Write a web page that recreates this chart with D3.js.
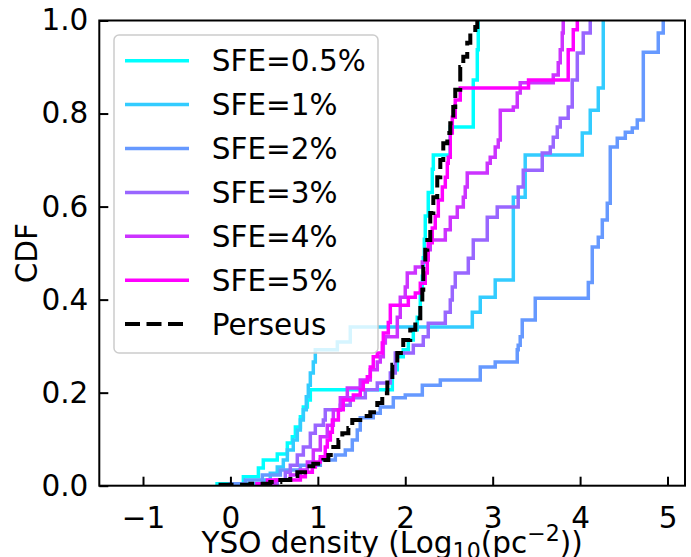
<!DOCTYPE html>
<html><head><meta charset="utf-8">
<script src="https://cdn.jsdelivr.net/npm/d3@7"></script>
<style>
body{margin:0;background:#fff}
text{font-family:"DejaVu Sans",sans-serif;fill:#000}
</style>
</head><body>
<svg id="chart" width="691" height="557"></svg>
<script>
// ---------------- data ----------------
const seriesLabels = ["SFE=0.5%", "SFE=1%", "SFE=2%", "SFE=3%", "SFE=4%", "SFE=5%", "Perseus"];
const xTicks = [-1, 0, 1, 2, 3, 4, 5];
const yTicks = [0, 0.2, 0.4, 0.6, 0.8, 1.0];
const xLimits = [-1.5, 5.2];
const yLimits = [0, 1];

const sfe05X = [-0.173, 0.148, 0.320, 0.376, 0.536, 0.651, 0.708, 0.743, 0.800, 0.834, 0.880, 0.914, 1.852, 1.909, 1.977, 2.035, 2.092, 2.137, 2.172, 2.195, 2.206, 2.218, 2.229, 2.263, 2.309, 2.321, 2.515, 2.778, 2.824, 2.835];
const sfe05Y = [0.004, 0.019, 0.038, 0.055, 0.068, 0.092, 0.105, 0.126, 0.148, 0.169, 0.184, 0.206, 0.249, 0.277, 0.292, 0.313, 0.335, 0.362, 0.410, 0.45, 0.49, 0.53, 0.58, 0.63, 0.68, 0.711, 0.771, 0.872, 0.937, 1.0];

const sfe1X = [0.170, 0.376, 0.456, 0.536, 0.605, 0.651, 0.719, 0.765, 0.800, 0.834, 0.868, 0.891, 0.914, 0.948, 0.971, 1.223, 1.371, 2.767, 2.858, 3.029, 3.236, 3.372, 4.025, 4.116, 4.208, 4.265];
const sfe1Y = [0.004, 0.012, 0.027, 0.040, 0.055, 0.077, 0.098, 0.120, 0.141, 0.163, 0.191, 0.216, 0.242, 0.266, 0.292, 0.309, 0.341, 0.373, 0.405, 0.442, 0.620, 0.711, 0.758, 0.807, 0.855, 1.0];

const sfe2X = [-0.024, 0.170, 0.365, 0.571, 0.800, 1.028, 1.200, 1.314, 1.394, 1.451, 1.485, 1.634, 1.714, 1.863, 2.000, 2.195, 2.401, 2.858, 3.029, 3.281, 3.292, 3.315, 3.338, 3.487, 4.094, 4.139, 4.208, 4.254, 4.311, 4.345, 4.425, 4.517, 4.597, 4.654, 4.723, 4.894, 4.951];
const sfe2Y = [0.004, 0.012, 0.023, 0.034, 0.044, 0.055, 0.066, 0.077, 0.098, 0.120, 0.146, 0.156, 0.169, 0.189, 0.195, 0.216, 0.227, 0.255, 0.266, 0.292, 0.302, 0.320, 0.356, 0.403, 0.437, 0.513, 0.534, 0.571, 0.607, 0.728, 0.747, 0.760, 0.769, 0.786, 0.932, 0.973, 1.0];

const sfe3X = [0.399, 0.536, 0.628, 0.685, 0.765, 0.834, 0.914, 0.971, 1.063, 1.085, 1.257, 1.371, 1.543, 1.680, 1.829, 1.886, 2.092, 2.206, 2.263, 2.458, 2.515, 2.538, 2.572, 2.721, 2.778, 2.938, 3.052, 3.292, 3.350, 3.567, 3.659, 3.693, 3.739, 3.773, 3.864, 3.910, 3.968, 4.036, 4.116];
const sfe3Y = [0.004, 0.012, 0.029, 0.044, 0.066, 0.083, 0.113, 0.130, 0.141, 0.163, 0.173, 0.189, 0.206, 0.221, 0.242, 0.285, 0.302, 0.320, 0.349, 0.373, 0.399, 0.427, 0.457, 0.489, 0.528, 0.577, 0.599, 0.642, 0.678, 0.715, 0.728, 0.749, 0.771, 0.790, 0.814, 0.872, 0.930, 0.973, 1.0];

const sfe4X = [0.285, 0.514, 0.685, 0.800, 0.880, 0.948, 1.028, 1.108, 1.177, 1.257, 1.337, 1.485, 1.600, 1.680, 1.714, 1.749, 1.772, 1.909, 1.943, 2.000, 2.023, 2.115, 2.195, 2.229, 2.286, 2.458, 2.515, 2.595, 2.664, 2.686, 2.709, 2.938, 2.972, 3.029, 3.064, 3.087, 3.236, 3.281, 3.315, 3.693, 3.750, 3.773, 3.796, 3.807];
const sfe4Y = [0.004, 0.012, 0.023, 0.034, 0.051, 0.077, 0.105, 0.130, 0.163, 0.189, 0.210, 0.227, 0.249, 0.266, 0.277, 0.307, 0.320, 0.362, 0.405, 0.427, 0.457, 0.470, 0.481, 0.507, 0.528, 0.550, 0.577, 0.599, 0.620, 0.642, 0.672, 0.693, 0.706, 0.728, 0.743, 0.807, 0.814, 0.844, 0.866, 0.883, 0.909, 0.937, 0.973, 1.0];

const sfe5X = [0.285, 0.422, 0.800, 0.857, 0.937, 0.971, 1.028, 1.085, 1.108, 1.143, 1.166, 1.235, 1.291, 1.406, 1.485, 1.520, 1.566, 1.600, 1.634, 1.680, 1.737, 1.749, 1.806, 1.829, 2.035, 2.115, 2.172, 2.229, 2.252, 2.263, 2.309, 2.343, 2.378, 2.424, 2.458, 2.481, 2.492, 2.515, 2.538, 2.572, 2.629, 3.410, 3.864, 3.922, 3.968];
const sfe5Y = [0.004, 0.012, 0.019, 0.029, 0.040, 0.051, 0.062, 0.083, 0.098, 0.115, 0.141, 0.163, 0.184, 0.195, 0.206, 0.223, 0.234, 0.255, 0.277, 0.285, 0.307, 0.328, 0.351, 0.388, 0.405, 0.414, 0.435, 0.457, 0.485, 0.522, 0.554, 0.580, 0.614, 0.642, 0.663, 0.693, 0.706, 0.758, 0.792, 0.829, 0.855, 0.872, 0.937, 0.980, 1.0];

const perseusX = [-0.136, 0.228, 0.456, 0.571, 0.685, 0.765, 0.880, 0.948, 1.063, 1.120, 1.177, 1.235, 1.280, 1.349, 1.394, 1.485, 1.600, 1.680, 1.737, 1.795, 1.852, 1.909, 1.977, 2.057, 2.115, 2.172, 2.195, 2.206, 2.229, 2.252, 2.286, 2.321, 2.366, 2.401, 2.435, 2.481, 2.515, 2.549, 2.572, 2.629, 2.664, 2.709, 2.744, 2.801, 2.824];
const perseusY = [0.002, 0.004, 0.008, 0.012, 0.021, 0.029, 0.042, 0.047, 0.055, 0.066, 0.083, 0.098, 0.113, 0.124, 0.141, 0.150, 0.158, 0.178, 0.199, 0.227, 0.260, 0.285, 0.313, 0.335, 0.360, 0.392, 0.421, 0.470, 0.507, 0.528, 0.586, 0.620, 0.663, 0.700, 0.736, 0.758, 0.779, 0.814, 0.851, 0.900, 0.922, 0.952, 0.973, 0.986, 1.0];

// ---------------- styles ----------------
const seriesColors = ["#00ffff", "#33ccff", "#6699ff", "#9966ff", "#cc33ff", "#ff00ff", "#000000"];
const seriesDash = [null, null, null, null, null, null, "15,6.5"];

const xs = [sfe05X, sfe1X, sfe2X, sfe3X, sfe4X, sfe5X, perseusX];
const ys = [sfe05Y, sfe1Y, sfe2Y, sfe3Y, sfe4Y, sfe5Y, perseusY];
const series = seriesLabels.map((name, i) => ({
  name, color: seriesColors[i], dash: seriesDash[i],
  pts: xs[i].map((v, j) => [v, ys[i][j]])
}));

// ---------------- layout ----------------
const L = 99.3, R = 685, T = 20.5, B = 485.7;
const FS = 29.5;
const svg = d3.select("#chart");
const x = d3.scaleLinear().domain(xLimits).range([L, R]);
const y = d3.scaleLinear().domain(yLimits).range([B, T]);

svg.append("defs").append("clipPath").attr("id", "clip")
  .append("rect").attr("x", L).attr("y", T).attr("width", R - L).attr("height", B - T);

const line = d3.line().x(d => x(d[0])).y(d => y(d[1])).curve(d3.curveStepAfter);

const plot = svg.append("g").attr("clip-path", "url(#clip)");
plot.selectAll("path.s").data(series).join("path")
  .attr("class", "s")
  .attr("d", d => line(d.pts))
  .attr("fill", "none")
  .attr("stroke", d => d.color)
  .attr("stroke-width", d => d.dash ? 4 : 3.5)
  .attr("stroke-dasharray", d => d.dash)
  .attr("stroke-linejoin", "miter")
  .attr("stroke-linecap", "butt");

// axes
const xAxis = d3.axisBottom(x).tickValues(xTicks).tickFormat(d3.format("d"))
  .tickSizeInner(-9).tickSizeOuter(0).tickPadding(21.5);
const gx = svg.append("g").attr("transform", `translate(0,${B})`).call(xAxis);
const yAxis = d3.axisLeft(y).tickValues(yTicks).tickFormat(d3.format(".1f"))
  .tickSizeInner(-9).tickSizeOuter(0).tickPadding(11);
const gy = svg.append("g").attr("transform", `translate(${L},0)`).call(yAxis);
[gx, gy].forEach(g => {
  g.select(".domain").remove();
  g.selectAll(".tick line").attr("stroke", "#000").attr("stroke-width", 2);
  g.selectAll(".tick text").attr("font-size", FS).attr("font-family", "DejaVu Sans").attr("fill", "#000");
});

// spines
svg.append("rect").attr("x", L).attr("y", T).attr("width", R - L).attr("height", B - T)
  .attr("fill", "none").attr("stroke", "#000").attr("stroke-width", 2);

// axis labels
svg.append("text").attr("transform", `translate(37,${(T + B) / 2}) rotate(-90)`)
  .attr("text-anchor", "middle").attr("font-size", FS).text("CDF");

const xl = svg.append("text").attr("x", (L + R) / 2).attr("y", 552.5)
  .attr("text-anchor", "middle").attr("font-size", FS);
xl.append("tspan").text("YSO density (Log");
xl.append("tspan").attr("font-size", FS * 0.75).attr("dy", 6).text("10");
xl.append("tspan").attr("dy", -6).text("(pc");
xl.append("tspan").attr("font-size", FS * 0.75).attr("dy", -12).text("\u22122");
xl.append("tspan").attr("dy", 12).text("))");

// legend
const leg = svg.append("g");
leg.append("rect").attr("x", 114).attr("y", 35).attr("width", 264).attr("height", 318)
  .attr("rx", 5).attr("ry", 5)
  .attr("fill", "rgba(255,255,255,0.8)").attr("stroke", "#cccccc").attr("stroke-width", 1.5);
const rowY = i => 60.7 + i * 43.9;
const items = leg.selectAll("g.item").data(series).join("g").attr("class", "item");
items.append("line")
  .attr("x1", 125).attr("x2", 189)
  .attr("y1", (d, i) => rowY(i)).attr("y2", (d, i) => rowY(i))
  .attr("stroke", d => d.color)
  .attr("stroke-width", d => d.dash ? 4 : 3.5)
  .attr("stroke-dasharray", d => d.dash);
items.append("text")
  .attr("x", 211.7).attr("y", (d, i) => rowY(i) + 10.7)
  .attr("font-size", FS).text(d => d.name);
</script>
</body></html>
